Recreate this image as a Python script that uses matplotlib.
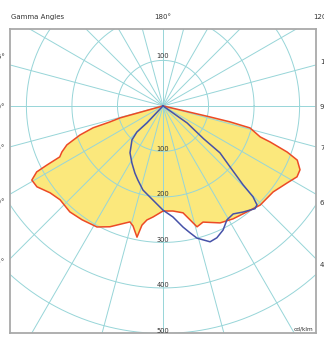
"""Polar luminous intensity diagram (cd/klm) for two C-planes."""
import numpy as np
import matplotlib
matplotlib.use("Agg")
import matplotlib.pyplot as plt

# C0-C180 plane: gamma angle (deg, 0 = nadir, + to the right) and intensity
c0_gamma = [-75, -74.4, -73.2, -72.6, -70.7, -67.9, -65.5, -63.7, -63.0, -62.4,
            -60.5, -57.3, -52.4, -47.6, -41.3, -35.4, -28.6, -23.7, -15.9, -14.0,
            -11.2, -10.0, -8.0, -5.1, 0, 5.4, 10.6, 13.3, 15.7, 19.0,
            26.0, 31.8, 38.4, 44.4, 52.0, 58.2, 62.1, 65.0, 68.0, 69.6,
            71.4, 72.3, 75.8, 76.6, 76.8, 77]
c0_cd = [0, 98, 122, 161, 193, 228, 244, 253, 286, 313,
         331, 329, 313, 306, 310, 307, 303, 290, 265, 272,
         294, 266, 253, 245, 231, 232, 239, 257, 276, 270,
         286, 292, 297, 305, 307, 321, 333, 332, 318, 291,
         248, 224, 197, 151, 106, 0]

# C90-C270 plane, traced around the closed curve
c90_gamma = [55, 54.7, 51.0, 50.5, 47.7, 45.4, 44.7, 43.5, 41.8, 37.0,
             33.0, 29.3, 25.8, 22.2, 19.1, 14.4, 12.0, 9.4, 5.1, 0,
             -6.1, -13.4, -18.7, -22.7, -28.5, -35.1, -42.4, -45.0, -43.3, -43]
c90_cd = [0, 65, 115, 162, 199, 247, 281, 300, 303, 292,
          283, 287, 303, 313, 316, 300, 285, 270, 245, 229,
          208, 190, 172, 160, 143, 126, 101, 81, 51, 0]

ring_values = [100, 200, 300, 400, 500]
spoke_step = 15
side_labels = ["105°", "90°", "75°", "60°", "45°"]

GRID = "#97d5d8"
W, H = 324, 338


def to_xy(gamma, cd):
    g = np.radians(gamma)
    cd = np.asarray(cd, dtype=float)
    return cd * np.sin(g), -cd * np.cos(g)


fig = plt.figure(figsize=(W / 100, H / 100), dpi=100)
ax = fig.add_axes([10 / W, 5 / H, 306 / W, 304 / H])
ax.set_xlim(-336, 336)
ax.set_ylim(-499, 169)
ax.set_xticks([])
ax.set_yticks([])
for sp in ax.spines.values():
    sp.set_color("#a9a9a9")
    sp.set_linewidth(1.3)

# luminous intensity curves
x0, y0 = to_xy(c0_gamma, c0_cd)
ax.fill(x0, y0, color="#fbe87c", lw=0, zorder=1)

# polar grid
t = np.linspace(0, 2 * np.pi, 400)
for r in range(100, 701, 100):
    ax.plot(r * np.cos(t), r * np.sin(t), color=GRID, lw=0.7, zorder=2)
for a in range(0, 360, spoke_step):
    ax.plot([0, 900 * np.sin(np.radians(a))], [0, -900 * np.cos(np.radians(a))],
            color=GRID, lw=0.7, zorder=2)

ax.plot(x0, y0, color="#ec4a26", lw=1.1, zorder=3)
x1, y1 = to_xy(c90_gamma, c90_cd)
ax.plot(x1, y1, color="#4652a8", lw=1.1, zorder=4)

# ring labels
ax.text(0, 110, "100", fontsize=4.8, ha="center", va="center", color="#333333", zorder=5)
for v in ring_values:
    ax.text(0, -v + 6, str(v), fontsize=4.8, ha="center", va="center",
            color="#333333", zorder=5)
ax.text(330, -490, "cd/klm", fontsize=4.2, ha="right", va="center", color="#333333")

# header and angle labels (the side ones run off the figure edge)
fig.text(11 / W, 1 - 17 / H, "Gamma Angles", fontsize=5, va="center", color="#333333")
fig.text(163 / W, 1 - 17 / H, "180°", fontsize=5, ha="center", va="center", color="#333333")
fig.text(313 / W, 1 - 17 / H, "120°", fontsize=5, va="center", color="#333333")
left_y = [57, 107, 148, 202, 262]
right_y = [62, 107, 148, 203, 265]
for lab, yl, yr in zip(side_labels, left_y, right_y):
    fig.text(5 / W, 1 - yl / H, lab, fontsize=5, ha="right", va="center", color="#333333")
    fig.text(320 / W, 1 - yr / H, lab, fontsize=5, ha="left", va="center", color="#333333")

fig.savefig("out.png", dpi=100)
